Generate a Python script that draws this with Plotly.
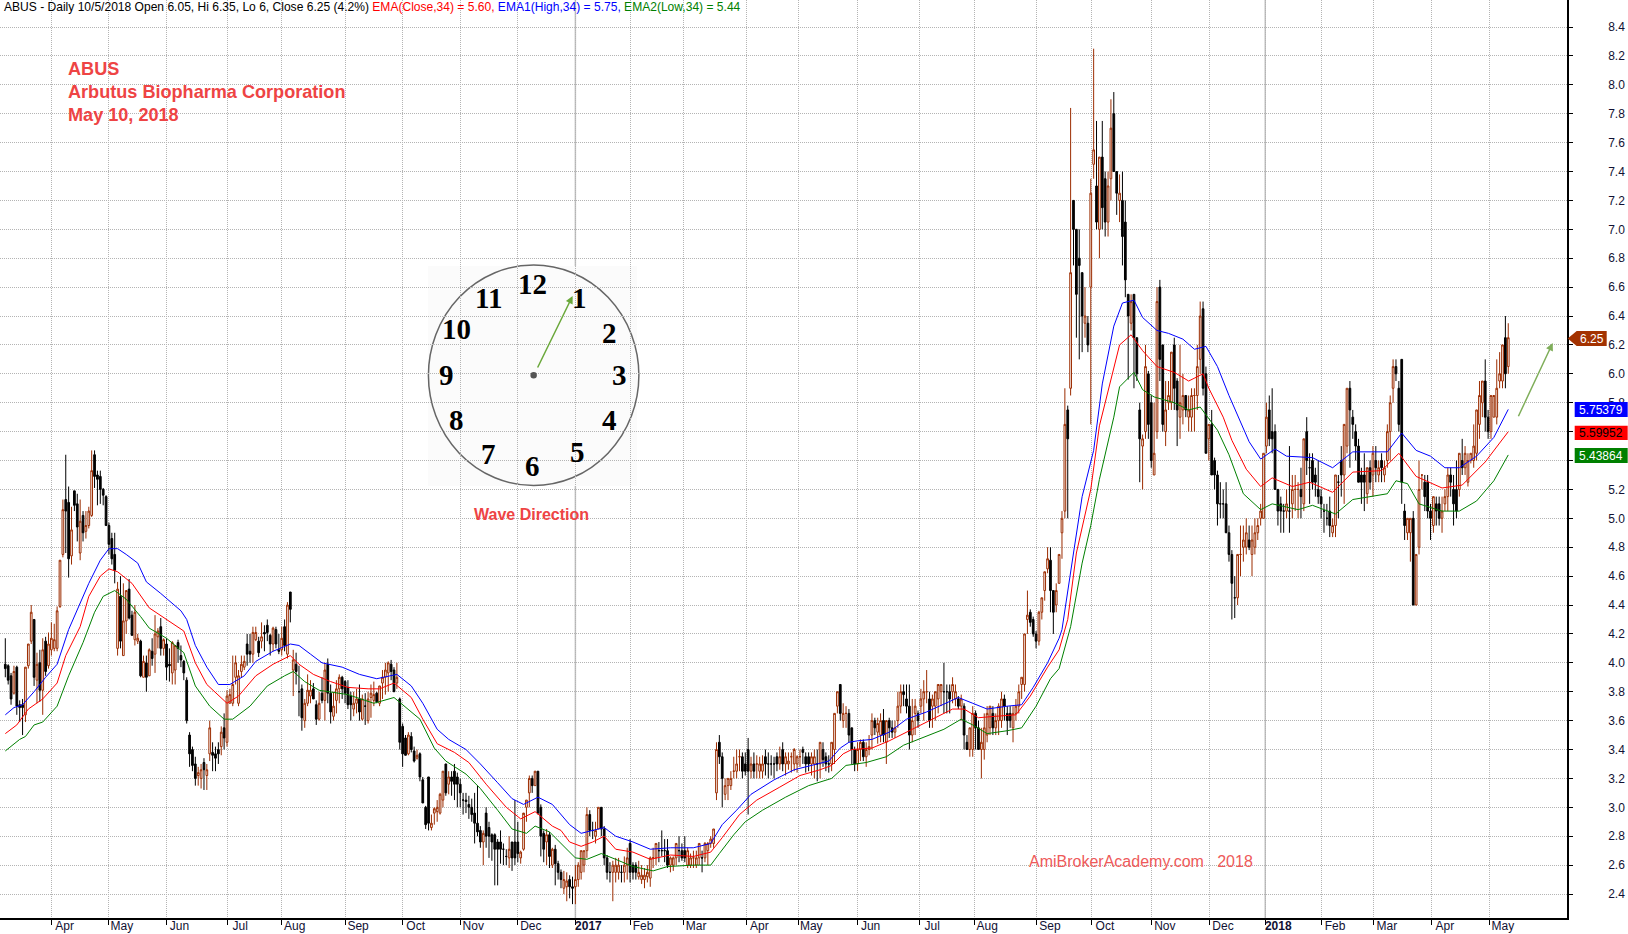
import plotly.graph_objects as go

# Each month: first bar number, then (open, high, low, close) rows
mar16 = (0, [(3.99,4.17,3.90,3.96),(3.98,3.99,3.85,3.88),(3.91,3.93,3.71,3.75),(3.79,3.98,3.78,3.94),(3.97,3.98,3.64,3.70),(3.71,3.74,3.59,3.69),(3.71,3.75,3.50,3.69),(3.64,3.97,3.59,3.97),(3.98,4.13,3.96,4.13),(4.15,4.40,4.13,4.35),(4.30,4.30,3.84,3.90),(3.88,4.07,3.72,3.99),(4.00,4.09,3.73,3.81),(3.81,4.17,3.64,4.09),(4.15,4.18,3.91,3.94),(3.98,4.21,3.96,4.13)])
apr16 = (16, [(4.09,4.28,4.05,4.17),(4.10,4.27,4.08,4.16),(4.10,4.39,4.08,4.36),(4.39,4.71,4.38,4.71),(4.75,5.13,4.73,5.06),(5.13,5.44,4.76,5.05),(5.11,5.22,4.59,4.72),(4.74,5.08,4.68,4.92),(5.19,5.19,5.05,5.09),(5.10,5.17,4.84,4.94),(4.76,5.13,4.71,4.98),(5.02,5.05,4.84,4.90),(4.91,5.05,4.86,4.95),(4.95,5.08,4.93,5.05),(5.02,5.47,5.01,5.33),(5.44,5.47,5.21,5.29),(5.30,5.33,5.09,5.27),(5.29,5.33,5.10,5.20),(5.20,5.21,5.09,5.16),(5.15,5.16,4.95,4.95)])
may16 = (36, [(4.95,4.97,4.75,4.82),(4.86,4.90,4.68,4.72),(4.75,4.90,4.55,4.64),(4.10,4.56,4.05,4.51),(4.46,4.60,4.10,4.15),(4.05,4.55,4.05,4.29),(4.29,4.50,4.20,4.50),(4.51,4.58,4.30,4.31),(4.33,4.36,4.19,4.19),(4.16,4.40,4.12,4.35),(4.15,4.20,4.13,4.17),(4.15,4.16,3.90,3.91),(3.90,4.05,3.90,4.01),(4.00,4.05,3.80,3.90),(3.91,4.10,3.91,4.09),(4.08,4.17,3.98,4.03),(4.06,4.33,3.93,4.20),(4.18,4.24,4.10,4.22),(4.25,4.31,4.05,4.10),(4.10,4.17,4.05,4.16)])
jun16 = (56, [(4.13,4.17,3.88,3.97),(3.99,4.10,3.87,3.98),(3.93,4.15,3.85,4.14),(3.95,4.12,3.85,4.12),(4.14,4.16,4.00,4.10),(4.05,4.12,3.97,4.02),(4.01,4.02,3.88,3.93),(3.88,3.90,3.58,3.60),(3.50,3.52,3.28,3.37),(3.40,3.42,3.25,3.29),(3.30,3.35,3.15,3.20),(3.22,3.28,3.15,3.24),(3.20,3.30,3.13,3.26),(3.31,3.34,3.12,3.26),(3.22,3.30,3.12,3.26),(3.37,3.60,3.32,3.55),(3.38,3.45,3.25,3.36),(3.37,3.42,3.25,3.34),(3.40,3.45,3.30,3.37),(3.42,3.56,3.36,3.52),(3.55,3.65,3.40,3.48)])
jul16 = (77, [(3.45,3.81,3.42,3.77),(3.72,3.82,3.72,3.78),(3.72,4.05,3.70,3.85),(3.90,4.05,3.85,4.00),(3.72,3.95,3.70,3.91),(3.94,4.05,3.90,3.99),(3.97,4.05,3.95,4.01),(4.13,4.20,3.98,4.06),(4.08,4.20,4.00,4.06),(4.06,4.25,4.00,4.21),(4.16,4.25,4.15,4.21),(4.15,4.18,4.04,4.07),(4.15,4.28,4.10,4.18),(4.21,4.26,4.08,4.20),(4.26,4.30,4.15,4.21),(4.19,4.20,4.05,4.13),(4.13,4.25,4.08,4.24),(4.23,4.25,4.10,4.13),(4.09,4.20,4.06,4.08)])
aug16 = (96, [(4.09,4.25,4.05,4.17),(4.25,4.30,4.08,4.12),(4.06,4.42,4.03,4.40),(4.49,4.49,4.28,4.37),(3.95,4.09,3.77,4.02),(3.99,4.07,3.85,3.94),(3.80,3.98,3.63,3.80),(3.82,3.85,3.53,3.62),(3.60,3.75,3.55,3.72),(3.72,3.92,3.70,3.81),(3.77,3.88,3.72,3.81),(3.82,3.86,3.75,3.75),(3.71,3.74,3.57,3.61),(3.61,3.80,3.60,3.72),(3.79,3.90,3.72,3.74),(3.74,4.00,3.60,3.95),(3.99,4.03,3.72,3.79),(3.79,3.85,3.58,3.66),(3.63,3.80,3.60,3.70),(3.74,3.88,3.65,3.82),(3.82,3.92,3.72,3.90),(3.90,3.91,3.75,3.82)])
sep16 = (118, [(3.87,3.88,3.72,3.79),(3.83,3.88,3.68,3.71),(3.77,3.80,3.60,3.71),(3.68,3.80,3.63,3.72),(3.72,3.82,3.65,3.75),(3.75,3.85,3.60,3.66),(3.61,3.78,3.60,3.75),(3.70,3.79,3.57,3.70),(3.60,3.80,3.58,3.75),(3.76,3.85,3.62,3.79),(3.74,3.87,3.70,3.78),(3.79,3.80,3.72,3.73),(3.72,3.84,3.70,3.84),(3.86,3.95,3.75,3.90),(3.90,4.00,3.78,3.95),(3.93,4.01,3.80,4.00),(3.99,4.02,3.88,3.94),(3.95,3.97,3.80,3.80),(3.86,4.00,3.82,3.90),(3.75,3.76,3.40,3.45)])
oct16 = (138, [(3.56,3.58,3.28,3.37),(3.48,3.50,3.36,3.36),(3.37,3.52,3.36,3.50),(3.49,3.52,3.38,3.40),(3.39,3.42,3.31,3.32),(3.34,3.40,3.33,3.36),(3.37,3.38,3.18,3.21),(3.19,3.21,3.03,3.03),(3.00,3.01,2.85,2.88),(3.21,3.21,2.84,2.89),(2.86,2.95,2.84,2.89),(2.96,3.00,2.88,2.99),(2.97,3.05,2.90,3.00),(2.96,3.10,2.95,3.09),(3.05,3.25,3.00,3.25),(3.30,3.30,3.08,3.10),(3.16,3.25,3.09,3.21),(3.21,3.25,3.08,3.18),(3.25,3.30,3.05,3.16),(3.21,3.24,3.00,3.16)])
nov16 = (158, [(3.16,3.20,3.00,3.10),(3.05,3.10,2.95,3.05),(3.05,3.10,2.96,3.04),(3.02,3.08,2.92,3.00),(3.00,3.06,2.90,2.95),(2.96,3.10,2.75,2.89),(2.89,3.15,2.80,2.83),(2.84,2.87,2.72,2.76),(2.76,2.84,2.60,2.82),(2.96,3.00,2.72,2.80),(2.86,2.90,2.65,2.80),(2.81,2.82,2.63,2.76),(2.81,2.82,2.46,2.71),(2.76,2.78,2.46,2.71),(2.76,2.84,2.61,2.71),(2.71,2.75,2.60,2.71),(2.66,2.71,2.60,2.66),(2.65,2.80,2.58,2.71),(2.76,2.76,2.56,2.65),(2.76,3.05,2.60,2.65)])
dec16 = (178, [(2.76,2.90,2.62,2.68),(2.65,2.70,2.61,2.69),(2.71,2.95,2.70,2.96),(3.00,3.05,2.90,3.05),(3.10,3.22,3.00,3.20),(3.20,3.22,3.10,3.15),(3.15,3.25,3.15,3.25),(3.25,3.25,2.95,2.96),(3.00,3.02,2.66,2.80),(2.82,2.84,2.62,2.71),(2.76,2.85,2.60,2.81),(2.81,2.83,2.58,2.66),(2.60,2.72,2.58,2.71),(2.71,2.74,2.46,2.61),(2.61,2.63,2.50,2.55),(2.55,2.57,2.44,2.50),(2.44,2.56,2.40,2.50),(2.45,2.55,2.35,2.49),(2.50,2.53,2.37,2.45),(2.45,2.52,2.33,2.44)])
jan17 = (198, [(2.45,2.60,2.33,2.50),(2.50,2.62,2.45,2.60),(2.55,2.70,2.50,2.70),(2.60,2.70,2.55,2.70),(2.70,3.00,2.65,2.95),(2.95,2.98,2.80,2.84),(2.84,2.90,2.78,2.84),(2.80,2.90,2.75,2.84),(2.85,3.00,2.85,3.00),(3.00,3.00,2.80,2.85),(2.85,2.87,2.60,2.65),(2.65,2.67,2.50,2.55),(2.55,2.62,2.48,2.55),(2.55,2.63,2.35,2.60),(2.55,2.65,2.48,2.60),(2.55,2.65,2.50,2.60),(2.55,2.60,2.48,2.55),(2.55,2.66,2.48,2.60),(2.60,2.72,2.50,2.65)])
feb17 = (217, [(2.75,2.78,2.48,2.55),(2.60,2.62,2.50,2.55),(2.60,2.62,2.50,2.55),(2.52,2.63,2.50,2.55),(2.50,2.60,2.47,2.53),(2.50,2.58,2.44,2.53),(2.52,2.60,2.48,2.55),(2.51,2.66,2.45,2.65),(2.65,2.72,2.58,2.65),(2.65,2.75,2.60,2.75),(2.70,2.76,2.62,2.70),(2.70,2.84,2.66,2.70),(2.70,2.78,2.62,2.70),(2.70,2.78,2.58,2.60),(2.60,2.66,2.55,2.65),(2.60,2.66,2.56,2.65),(2.65,2.75,2.60,2.75),(2.70,2.80,2.62,2.70)])
mar17 = (235, [(2.70,2.75,2.63,2.65),(2.70,2.80,2.62,2.65),(2.60,2.72,2.58,2.70),(2.60,2.68,2.58,2.65),(2.65,2.70,2.58,2.65),(2.60,2.70,2.58,2.65),(2.65,2.75,2.60,2.75),(2.65,2.70,2.55,2.65),(2.65,2.76,2.62,2.75),(2.70,2.76,2.60,2.75),(2.75,2.80,2.72,2.78),(2.75,2.85,2.72,2.85),(3.10,3.45,3.05,3.40),(3.45,3.50,3.30,3.35),(3.35,3.38,3.00,3.20),(3.09,3.20,3.05,3.15),(3.15,3.20,3.05,3.20),(3.15,3.25,3.12,3.20),(3.25,3.35,3.20,3.25),(3.25,3.40,3.20,3.30),(3.35,3.40,3.25,3.35),(3.35,3.38,3.20,3.25)])
apr17 = (257, [(3.30,3.38,3.22,3.25),(3.40,3.48,2.95,3.25),(3.25,3.35,3.20,3.30),(3.30,3.38,3.20,3.25),(3.30,3.36,3.20,3.30),(3.25,3.35,3.20,3.30),(3.25,3.36,3.20,3.30),(3.35,3.40,3.22,3.30),(3.30,3.38,3.20,3.30),(3.30,3.36,3.22,3.30),(3.30,3.35,3.20,3.30),(3.35,3.38,3.25,3.30),(3.30,3.42,3.26,3.35),(3.40,3.45,3.25,3.30),(3.30,3.38,3.22,3.35),(3.30,3.38,3.26,3.32),(3.35,3.38,3.24,3.35),(3.30,3.41,3.25,3.40)])
may17 = (275, [(3.30,3.36,3.24,3.35),(3.35,3.40,3.28,3.35),(3.40,3.42,3.30,3.38),(3.35,3.38,3.24,3.30),(3.35,3.38,3.25,3.30),(3.30,3.38,3.22,3.35),(3.30,3.40,3.20,3.35),(3.30,3.40,3.18,3.30),(3.30,3.45,3.20,3.45),(3.40,3.45,3.28,3.33),(3.35,3.38,3.25,3.30),(3.30,3.36,3.24,3.30),(3.30,3.45,3.25,3.45),(3.40,3.65,3.30,3.65),(3.70,3.80,3.65,3.80),(3.85,3.85,3.60,3.65),(3.60,3.72,3.55,3.65),(3.65,3.70,3.55,3.65),(3.65,3.68,3.45,3.50),(3.55,3.55,3.30,3.40),(3.40,3.42,3.25,3.30)])
jun17 = (296, [(3.30,3.45,3.25,3.40),(3.40,3.47,3.32,3.45),(3.45,3.47,3.32,3.35),(3.35,3.45,3.28,3.40),(3.40,3.50,3.36,3.42),(3.50,3.65,3.40,3.60),(3.60,3.62,3.50,3.55),(3.52,3.62,3.44,3.58),(3.50,3.65,3.45,3.60),(3.60,3.68,3.45,3.50),(3.45,3.60,3.30,3.60),(3.60,3.62,3.48,3.55),(3.55,3.60,3.48,3.52),(3.52,3.60,3.48,3.55),(3.60,3.80,3.55,3.70),(3.70,3.85,3.65,3.80),(3.80,3.85,3.70,3.78),(3.75,3.85,3.65,3.70),(3.70,3.85,3.40,3.50),(3.50,3.75,3.45,3.60),(3.65,3.75,3.50,3.70)])
jul17 = (317, [(3.65,3.67,3.55,3.60),(3.70,3.82,3.65,3.75),(3.75,3.88,3.60,3.80),(3.80,3.95,3.72,3.80),(3.75,3.80,3.55,3.60),(3.70,3.78,3.55,3.75),(3.70,3.80,3.60,3.80),(3.75,3.85,3.65,3.85),(3.80,3.85,3.70,3.85),(3.80,4.00,3.65,3.80),(3.80,3.85,3.65,3.80),(3.80,3.85,3.65,3.75),(3.80,3.90,3.72,3.85),(3.75,3.85,3.70,3.80),(3.75,3.77,3.68,3.70),(3.70,3.78,3.60,3.75),(3.70,3.72,3.40,3.50),(3.45,3.50,3.40,3.40),(3.40,3.55,3.35,3.55)])
aug17 = (336, [(3.40,3.70,3.35,3.65),(3.65,3.67,3.40,3.55),(3.55,3.60,3.40,3.40),(3.40,3.55,3.20,3.45),(3.40,3.65,3.33,3.55),(3.50,3.70,3.45,3.65),(3.55,3.70,3.50,3.70),(3.65,3.70,3.50,3.55),(3.55,3.65,3.50,3.60),(3.60,3.72,3.50,3.70),(3.60,3.80,3.55,3.75),(3.75,3.78,3.60,3.70),(3.65,3.70,3.50,3.60),(3.65,3.70,3.55,3.60),(3.55,3.70,3.45,3.65),(3.65,3.75,3.60,3.70),(3.70,3.85,3.65,3.80),(3.85,3.90,3.75,3.90),(3.85,4.20,3.80,4.20),(4.30,4.50,4.20,4.33),(4.35,4.37,4.25,4.28),(4.30,4.32,4.18,4.20)])
sep17 = (358, [(4.20,4.22,4.10,4.15),(4.15,4.36,4.12,4.35),(4.35,4.45,4.30,4.45),(4.50,4.63,4.43,4.63),(4.65,4.80,4.62,4.72),(4.71,4.80,4.35,4.50),(4.50,4.50,4.20,4.35),(4.40,4.55,4.35,4.50),(4.55,4.75,4.55,4.75),(4.90,5.05,4.72,5.00),(5.05,5.90,5.00,5.65),(5.75,5.78,5.00,5.55),(5.90,7.84,5.85,6.70),(7.20,7.20,6.75,7.00),(7.00,7.00,6.25,6.55),(6.80,7.00,6.10,6.75),(6.70,6.70,6.15,6.40),(6.35,6.60,6.25,6.40),(6.35,6.40,6.15,6.20)])
oct17 = (377, [(6.60,7.35,5.65,7.25),(7.45,8.25,7.35,7.55),(7.30,7.75,7.00,7.05),(7.00,7.50,6.80,7.50),(7.50,7.75,7.00,7.15),(7.35,7.40,6.95,7.05),(7.05,7.40,6.95,7.30),(7.35,7.90,7.20,7.70),(7.80,7.95,7.40,7.40),(7.40,7.40,7.10,7.25),(7.20,7.38,7.05,7.25),(7.20,7.40,6.75,6.95),(7.05,7.20,6.53,6.65),(6.55,6.55,5.96,6.40),(6.35,6.55,6.30,6.50),(6.55,6.55,5.90,6.25),(6.25,6.25,5.95,6.00),(5.75,5.80,5.25,5.55),(5.50,5.58,5.20,5.55),(5.60,6.20,5.55,6.05),(6.00,6.02,5.55,5.65)])
nov17 = (398, [(5.80,5.85,5.35,5.40),(5.30,5.80,5.30,5.45),(5.60,6.60,5.55,6.50),(6.60,6.65,5.95,6.10),(6.20,6.20,5.60,5.65),(5.60,5.95,5.50,5.75),(5.80,5.95,5.75,5.85),(5.80,6.15,5.75,6.15),(6.20,6.25,5.75,5.90),(5.95,5.97,5.50,5.75),(5.70,6.20,5.55,5.80),(5.75,6.00,5.65,5.85),(5.85,5.85,5.70,5.75),(5.70,5.85,5.60,5.75),(5.70,5.90,5.60,5.85),(5.85,5.90,5.60,5.85),(5.85,6.20,5.75,6.05),(6.10,6.50,6.00,6.40),(6.45,6.50,5.85,5.90),(6.00,6.05,5.45,5.45)])
dec17 = (418, [(5.55,5.65,5.40,5.65),(5.65,5.75,5.30,5.30),(5.40,5.42,5.20,5.30),(5.30,5.33,4.95,5.10),(5.10,5.25,5.00,5.10),(5.10,5.20,5.00,5.10),(5.10,5.25,4.90,4.90),(4.90,4.95,4.70,4.75),(4.75,4.78,4.30,4.55),(4.45,4.60,4.31,4.45),(4.45,4.75,4.40,4.75),(4.75,4.95,4.60,4.75),(4.80,4.95,4.70,4.85),(4.80,5.00,4.75,4.90),(4.85,4.95,4.78,4.80),(4.75,4.95,4.60,4.85),(4.80,5.00,4.75,4.90),(4.90,5.00,4.85,4.95),(5.00,5.10,4.95,5.05)])
jan18 = (437, [(5.00,5.45,5.00,5.45),(5.50,5.80,5.45,5.70),(5.75,5.85,5.50,5.55),(5.60,5.90,5.45,5.55),(5.60,5.65,5.20,5.20),(5.20,5.20,4.95,5.05),(5.10,5.15,4.90,5.05),(5.05,5.10,4.90,5.05),(5.05,5.20,5.00,5.10),(5.05,5.50,4.90,5.05),(5.10,5.30,5.00,5.20),(5.20,5.30,5.05,5.20),(5.20,5.25,5.00,5.20),(5.20,5.35,5.00,5.15),(5.10,5.55,5.05,5.55),(5.60,5.70,5.30,5.40),(5.35,5.45,5.10,5.35),(5.40,5.45,5.20,5.25),(5.30,5.35,5.15,5.25),(5.20,5.40,5.10,5.15)])
feb18 = (457, [(5.15,5.20,5.00,5.10),(5.05,5.10,4.90,5.05),(5.00,5.10,4.95,5.00),(5.05,5.15,4.87,4.95),(4.90,5.00,4.87,4.95),(4.95,5.30,4.87,5.30),(5.25,5.30,5.00,5.25),(5.40,5.50,5.15,5.30),(5.30,5.65,5.10,5.65),(5.50,5.90,5.45,5.90),(5.90,5.95,5.35,5.75),(5.70,5.75,5.55,5.65),(5.60,5.65,5.40,5.50),(5.50,5.55,5.25,5.25),(5.30,5.35,5.10,5.25),(5.30,5.45,5.05,5.25),(5.17,5.35,5.10,5.35),(5.35,5.40,5.20,5.25)])
mar18 = (475, [(5.30,5.50,5.15,5.45),(5.40,5.50,5.25,5.35),(5.30,5.40,5.25,5.35),(5.40,5.45,5.25,5.35),(5.30,5.40,5.25,5.35),(5.40,5.65,5.35,5.60),(5.60,5.85,5.40,5.80),(5.90,6.10,5.80,6.05),(6.05,6.10,5.95,6.00),(5.90,5.95,5.60,5.65),(6.10,6.10,5.10,5.25),(5.05,5.10,4.85,4.95),(4.90,5.00,4.85,5.00),(4.90,5.00,4.70,5.00),(5.00,5.05,4.40,4.40),(4.40,4.75,4.40,4.75),(4.80,5.40,4.75,5.20),(5.30,5.30,5.20,5.30),(5.25,5.30,5.05,5.15),(5.25,5.30,5.00,5.05)])
apr18 = (495, [(5.05,5.10,4.85,5.00),(4.95,5.15,4.90,5.15),(5.10,5.15,4.95,5.05),(5.10,5.15,4.95,5.00),(5.00,5.15,4.90,5.05),(5.10,5.20,5.05,5.15),(5.15,5.35,5.05,5.30),(5.30,5.35,5.15,5.25),(5.20,5.30,4.95,5.10),(5.20,5.40,5.00,5.05),(5.20,5.45,5.15,5.45),(5.40,5.55,5.30,5.35),(5.35,5.50,5.30,5.45),(5.25,5.45,5.22,5.40),(5.40,5.45,5.38,5.45),(5.40,5.65,5.35,5.50),(5.45,5.75,5.40,5.75),(5.65,5.95,5.55,5.85),(5.80,5.95,5.70,5.95)])
may18 = (514, [(5.95,6.10,5.60,5.70),(5.70,5.75,5.55,5.60),(5.60,5.85,5.55,5.85),(5.70,5.85,5.70,5.85),(5.70,6.10,5.65,5.90),(5.95,6.15,5.90,6.00),(5.95,6.20,5.90,6.20),(6.25,6.40,5.90,6.00),(6.05,6.35,6.00,6.25)])
months = [mar16,apr16,may16,jun16,jul16,aug16,sep16,oct16,nov16,dec16,jan17,feb17,mar17,apr17,may17,jun17,jul17,aug17,sep17,oct17,nov17,dec17,jan18,feb18,mar18,apr18,may18]

# EMA curves: (bar number, value)
ema_high = [(0,3.64),(3,3.69),(6,3.71),(10,3.80),(14,3.90),(18,3.99),(22,4.23),(26,4.41),(29,4.55),(33,4.71),(36,4.79),(39,4.79),(42,4.75),(46,4.69),(49,4.56),(54,4.48),(61,4.36),(63,4.30),(66,4.12),(70,3.97),(74,3.85),(78,3.85),(83,3.91),(87,4.01),(93,4.08),(99,4.13),(102,4.12),(106,4.06),(110,4.00),(117,3.97),(123,3.92),(129,3.89),(136,3.92),(141,3.84),(145,3.72),(150,3.54),(154,3.47),(160,3.40),(165,3.30),(171,3.17),(176,3.06),(180,3.02),(185,3.07),(190,3.02),(193,2.95),(196,2.88),(200,2.82),(204,2.84),(208,2.86),(212,2.80),(218,2.76),(224,2.71),(231,2.72),(239,2.72),(245,2.75),(249,2.88),(254,2.98),(259,3.09),(267,3.19),(274,3.26),(282,3.30),(286,3.32),(290,3.41),(293,3.45),(296,3.46),(301,3.47),(307,3.52),(313,3.61),(320,3.66),(327,3.72),(331,3.76),(336,3.72),(341,3.68),(348,3.70),(353,3.71),(357,3.83),(362,4.00),(366,4.17),(367,4.23),(371,4.76),(374,5.15),(378,5.47),(381,5.93),(385,6.33),(388,6.49),(392,6.51),(395,6.39),(400,6.30),(404,6.28),(409,6.24),(413,6.17),(417,6.19),(421,6.05),(425,5.85),(429,5.66),(432,5.53),(436,5.41),(441,5.48),(445,5.43),(454,5.42),(461,5.35),(468,5.46),(480,5.46),(485,5.59),(490,5.47),(495,5.43),(500,5.35),(505,5.35),(511,5.43),(517,5.56),(522,5.75379)]
ema_close = [(0,3.51),(4,3.57),(8,3.68),(13,3.75),(18,3.86),(21,4.05),(26,4.25),(29,4.46),(33,4.60),(36,4.65),(39,4.63),(44,4.55),(50,4.38),(56,4.30),(62,4.22),(66,4.00),(70,3.85),(77,3.72),(81,3.77),(87,3.91),(93,3.99),(99,4.05),(102,3.99),(107,3.92),(113,3.87),(119,3.83),(126,3.82),(130,3.82),(135,3.86),(141,3.76),(145,3.61),(150,3.44),(156,3.38),(161,3.31),(167,3.16),(174,3.00),(179,2.92),(184,2.97),(190,2.87),(193,2.84),(196,2.76),(200,2.73),(204,2.76),(208,2.80),(212,2.71),(218,2.69),(224,2.64),(231,2.67),(239,2.66),(245,2.69),(249,2.79),(255,2.95),(261,3.05),(269,3.14),(276,3.22),(283,3.26),(287,3.29),(291,3.37),(294,3.40),(301,3.41),(307,3.46),(315,3.54),(322,3.61),(329,3.68),(333,3.68),(338,3.62),(344,3.63),(351,3.64),(356,3.77),(362,3.97),(366,4.09),(369,4.30),(372,4.76),(377,5.20),(380,5.64),(384,5.95),(387,6.20),(391,6.27),(395,6.16),(400,6.05),(406,6.01),(411,5.95),(416,6.00),(418,5.90),(423,5.70),(426,5.54),(431,5.34),(436,5.22),(440,5.28),(447,5.22),(453,5.25),(461,5.18),(468,5.32),(478,5.33),(484,5.45),(490,5.29),(499,5.21),(506,5.23),(514,5.39),(522,5.59952)]
ema_low = [(0,3.39),(5,3.47),(7,3.49),(10,3.57),(13,3.59),(18,3.70),(22,3.91),(27,4.14),(31,4.35),(34,4.46),(38,4.50),(42,4.44),(47,4.32),(50,4.24),(56,4.17),(59,4.12),(62,4.07),(66,3.84),(71,3.70),(76,3.61),(79,3.61),(85,3.70),(91,3.84),(97,3.91),(100,3.94),(104,3.87),(109,3.81),(119,3.78),(128,3.72),(135,3.76),(138,3.71),(144,3.61),(149,3.41),(153,3.32),(160,3.23),(165,3.13),(171,2.98),(176,2.85),(181,2.82),(184,2.87),(189,2.83),(193,2.75),(198,2.65),(202,2.64),(207,2.68),(212,2.64),(218,2.59),(225,2.56),(230,2.59),(239,2.60),(245,2.60),(248,2.68),(253,2.81),(257,2.90),(263,2.98),(271,3.07),(279,3.15),(287,3.20),(292,3.29),(299,3.31),(306,3.35),(312,3.43),(320,3.49),(326,3.54),(332,3.61),(336,3.57),(341,3.51),(348,3.53),(353,3.55),(358,3.70),(363,3.89),(366,3.96),(370,4.25),(374,4.69),(377,4.95),(380,5.27),(385,5.70),(387,5.91),(392,6.01),(395,5.89),(399,5.84),(406,5.80),(411,5.75),(415,5.77),(421,5.61),(425,5.44),(430,5.17),(436,5.06),(440,5.10),(449,5.06),(454,5.09),(462,5.03),(468,5.13),(480,5.17),(483,5.26),(487,5.24),(491,5.10),(499,5.05),(505,5.05),(511,5.12),(517,5.26),(522,5.43864)]

tick_bars = [16.1,36,56,77.1,96,118,138,158,178,198,217,235.4,257.4,275.4,296,317.4,336.5,358.3,377.4,398.2,418.4,437.6,457.3,475.3,495.5,515.6]
tick_names = ["Apr","May","Jun","Jul","Aug","Sep","Oct","Nov","Dec","<b>2017</b>","Feb","Mar","Apr","May","Jun","Jul","Aug","Sep","Oct","Nov","Dec","<b>2018</b>","Feb","Mar","Apr","May"]
year_bars = [198, 437.6]
price_ticks = [round(2.4 + 0.2 * k, 1) for k in range(31)]
covered_prices = [5.4, 5.6]  # their labels sit behind the value tags
clock_numbers = [("12",533,284),("1",580,298),("2",610,333),("3",620,375),("4",610,420),("5",578,452),("6",533,466),("7",489,454),("8",457,420),("9",447,375),("10",457,329),("11",489,298)]
title_parts = [("ABUS - Daily 10/5/2018 Open 6.05, Hi 6.35, Lo 6, Close 6.25 (4.2%) ","#000000"),("EMA(Close,34) = 5.60, ","#ff0000"),("EMA1(High,34) = 5.75, ","#0000ff"),("EMA2(Low,34) = 5.44","#008000")]
value_tags = [("5.75379",402,417,"#0000ff","#ffffff"),("5.59952",425.7,440,"#ff0000","#000000"),("5.43864",448,463,"#008000","#ffffff")]
company_lines = [("ABUS",69),("Arbutus Biopharma Corporation",92),("May 10, 2018",115)]

W, H = 1628, 934
PLOT_R, PLOT_B = 1567.3, 918
def xp(px): return px / PLOT_R
def yp(py): return 1 - py / PLOT_B

bars, opens, highs, lows, closes = [], [], [], [], []
for start, rows in months:
    for j, (o, h, l, c) in enumerate(rows):
        bars.append(start + j); opens.append(o); highs.append(h); lows.append(l); closes.append(c)

SANS = "Liberation Sans"
fig = go.Figure()
fig.add_trace(go.Candlestick(x=bars, open=opens, high=highs, low=lows, close=closes,
    increasing=dict(line=dict(color="#9c2c00", width=1), fillcolor="#ffffff"),
    decreasing=dict(line=dict(color="#000000", width=1), fillcolor="#000000"),
    whiskerwidth=0, showlegend=False, hoverinfo="skip"))
for curve, col in ((ema_high, "#0000ff"), (ema_close, "#ff0000"), (ema_low, "#008000")):
    fig.add_trace(go.Scatter(x=[p[0] for p in curve], y=[p[1] for p in curve], mode="lines",
                             line=dict(color=col, width=1), showlegend=False, hoverinfo="skip"))

shapes = [dict(type="line", xref="x", yref="paper", x0=b, x1=b, y0=0, y1=1,
               line=dict(color="#c0c0c0", width=1.5), layer="below") for b in year_bars]
# clock face
shapes.append(dict(type="rect", xref="paper", yref="paper", x0=xp(428), x1=xp(637), y0=yp(486), y1=yp(266),
                   fillcolor="#fbfbfb", line=dict(width=0), layer="below"))
shapes.append(dict(type="circle", xref="paper", yref="paper", x0=xp(428.5), x1=xp(639), y0=yp(485.5), y1=yp(265),
                   line=dict(color="#666666", width=1.5), layer="below"))
shapes.append(dict(type="circle", xref="paper", yref="paper", x0=xp(530.5), x1=xp(537), y0=yp(378.5), y1=yp(372),
                   fillcolor="#555555", line=dict(width=0)))
# tags on the price axis
shapes.append(dict(type="path", xref="paper", yref="paper", fillcolor="#a33200", line=dict(width=0),
                   path=f"M {xp(1568)} {yp(338.5)} L {xp(1577)} {yp(331)} L {xp(1607)} {yp(331)} L {xp(1607)} {yp(346)} L {xp(1577)} {yp(346)} Z"))
for _, top, bottom, col, _fg in value_tags:
    shapes.append(dict(type="rect", xref="paper", yref="paper", x0=xp(1575), x1=xp(1628), y0=yp(bottom), y1=yp(top),
                       fillcolor=col, line=dict(width=0)))

notes = []
def note(text, px, py, size, color, bold=False, family=SANS, anchor="left"):
    notes.append(dict(text=f"<b>{text}</b>" if bold else text, xref="paper", yref="paper", x=xp(px), y=yp(py),
                      xanchor=anchor, yanchor="middle", showarrow=False, font=dict(family=family, size=size, color=color)))

note("".join(f'<span style="color:{c}">{t}</span>' for t, c in title_parts), 2, 7.5, 12.05, "#000000")
for text, py in company_lines:
    note(text, 66, py, 18.1, "#ee4444", bold=True)
note("Wave Direction", 531.5, 514, 16, "#ee4444", bold=True, anchor="center")
note("AmiBrokerAcademy.com   2018", 1027, 861, 16, "#ee5a5a")
note("6.25", 1592, 338.5, 12, "#ffffff", anchor="center")
for text, top, bottom, _c, fg in value_tags:
    note(text, 1601.5, (top + bottom) / 2, 12, fg, anchor="center")
for text, px, py in clock_numbers:
    note(text, px, py, 29, "#000000", bold=True, family="Liberation Serif", anchor="center")
for head_x, head_y, dx, dy, col in ((572.7, 296, -35.7, 73, "#6aa83a"), (1553, 343, -35, 74.7, "#7fae5a")):
    notes.append(dict(text="", xref="paper", yref="paper", x=xp(head_x), y=yp(head_y), ax=dx, ay=dy, showarrow=True,
                      arrowhead=2, arrowsize=1, arrowwidth=1.5, arrowcolor=col))

GRID_DOTS = "1px,1px"
fig.update_layout(
    width=W, height=H, autosize=False, paper_bgcolor="#ffffff", plot_bgcolor="#ffffff", boxgap=0.15,
    margin=dict(l=0, r=W - PLOT_R, t=0, b=H - PLOT_B, autoexpand=False, pad=0),
    font=dict(family=SANS, size=12, color="#000000"), showlegend=False, shapes=shapes, annotations=notes,
    xaxis=dict(range=[-1.84, 542.4], tickmode="array", tickvals=tick_bars, ticktext=tick_names, rangeslider=dict(visible=False),
               showgrid=True, gridcolor="#b4b4b4", griddash=GRID_DOTS, gridwidth=1, zeroline=False,
               showline=True, linecolor="#000000", linewidth=1.5, ticks="outside", ticklen=5, tickcolor="#000000",
               ticklabelshift=13, ticklabelstandoff=-9, tickfont=dict(family=SANS, size=12, color="#111133")),
    yaxis=dict(range=[2.234, 8.587], side="right", tickmode="array", tickvals=price_ticks,
               ticktext=["" if v in covered_prices else f"{v:.1f}" for v in price_ticks],
               showgrid=True, gridcolor="#b4b4b4", griddash=GRID_DOTS, gridwidth=1, zeroline=False,
               showline=True, linecolor="#000000", linewidth=1.5, ticks="outside", ticklen=4, tickcolor="#000000",
               ticklabelstandoff=33, tickfont=dict(family=SANS, size=12, color="#111133")),
)
fig.write_html("out.html", config=dict(displayModeBar=False),
               post_script="document.body.style.margin='0';document.body.style.overflow='hidden';")
